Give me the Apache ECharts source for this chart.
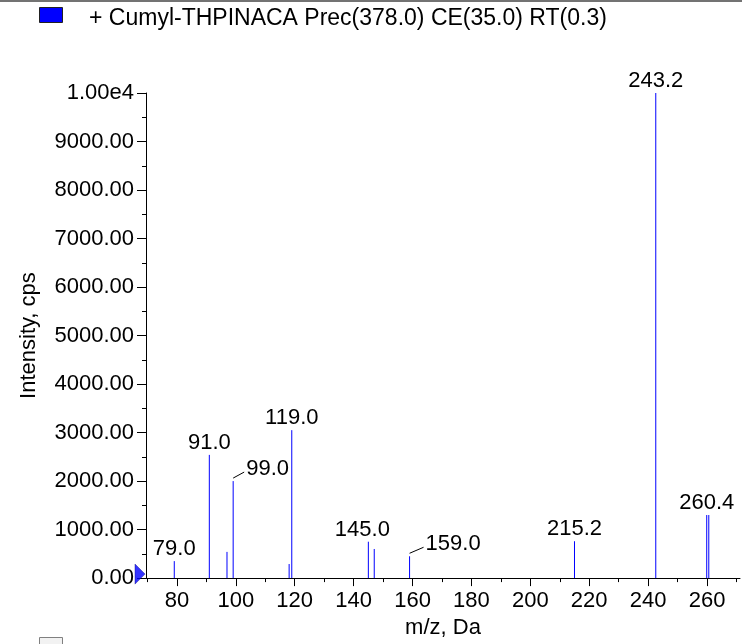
<!DOCTYPE html>
<html>
<head>
<meta charset="utf-8">
<script src="https://cdn.jsdelivr.net/npm/echarts@6/dist/echarts.min.js"></script>
<style>
  html, body { margin: 0; padding: 0; background: #fff; }
  #chart { width: 742px; height: 644px; }
</style>
</head>
<body>
<div id="chart"></div>
<script>
// peaks (m/z, intensity in cps)
const mzValues = [79.1, 91.0, 97.0, 99.1, 118.1, 119.0, 145.0, 147.0, 159.0, 215.0, 242.6, 259.9, 260.6];
const intensities = [350, 2540, 540, 2000, 290, 3050, 750, 600, 450, 760, 10000, 1300, 1300];
const peakLabels = ["79.0", "91.0", "", "99.0", "", "119.0", "145.0", "", "159.0", "215.2", "243.2", "260.4", ""];

const xTickValues = [80, 100, 120, 140, 160, 180, 200, 220, 240, 260];
const xMinorTickValues = [70, 90, 110, 130, 150, 170, 190, 210, 230, 250, 270];
const yTickValues = [0, 1000, 2000, 3000, 4000, 5000, 6000, 7000, 8000, 9000, 10000];

const legendText = "+ Cumyl-THPINACA Prec(378.0) CE(35.0) RT(0.3)";

const X_MIN = 69.5;
const X_MAX = 271.2;
const FONT = "Liberation Sans, Arial, sans-serif";

// labels that were moved aside with a small leader line
const leaderLabels = ["99.0", "159.0"];
const labelShift = { "145.0": -6 };

const chart = echarts.init(document.getElementById("chart"));

function renderPeak(params, api) {
  const mz = api.value(0);
  const base = api.coord([mz, 0]);
  const top = api.coord([mz, api.value(1)]);
  const children = [
    {
      type: "line",
      shape: { x1: base[0], y1: base[1], x2: top[0], y2: top[1] },
      style: { stroke: "#0000ff", lineWidth: 1 },
    },
  ];
  const text = peakLabels[params.dataIndex];
  if (text) {
    if (leaderLabels.includes(text)) {
      const dx = text === "99.0" ? 11 : 14;
      children.push({
        type: "line",
        shape: { x1: top[0], y1: top[1] - 3, x2: top[0] + dx, y2: top[1] - 9 },
        style: { stroke: "#000", lineWidth: 1 },
      });
      children.push({
        type: "text",
        style: {
          text: text,
          x: top[0] + dx + 2,
          y: top[1] - 12,
          fill: "#000",
          font: "22px " + FONT,
          align: "left",
          verticalAlign: "middle",
        },
      });
    } else {
      children.push({
        type: "text",
        style: {
          text: text,
          x: top[0] + (labelShift[text] || 0),
          y: top[1] - 1,
          fill: "#000",
          font: "22px " + FONT,
          align: "center",
          verticalAlign: "bottom",
        },
      });
    }
  }
  return { type: "group", children: children };
}

chart.setOption({
  animation: false,
  backgroundColor: "#fff",
  textStyle: { fontFamily: FONT },
  grid: { left: 146, right: 2, top: 93, bottom: 62 },
  xAxis: [
    {
      type: "value",
      min: X_MIN,
      max: X_MAX,
      position: "bottom",
      name: "m/z, Da",
      nameLocation: "middle",
      nameGap: 35,
      nameTextStyle: { color: "#000", fontSize: 22, fontFamily: FONT },
      axisLine: { show: true, lineStyle: { color: "#000", width: 1 } },
      axisTick: { show: true, length: 8, customValues: xTickValues, lineStyle: { color: "#000" } },
      axisLabel: {
        color: "#000",
        fontSize: 22,
        fontFamily: FONT,
        margin: 12,
        customValues: xTickValues,
      },
      splitLine: { show: false },
    },
    {
      type: "value",
      min: X_MIN,
      max: X_MAX,
      position: "bottom",
      axisLine: { show: false },
      axisTick: { show: true, length: 4, customValues: xMinorTickValues, lineStyle: { color: "#000" } },
      axisLabel: { show: false },
      splitLine: { show: false },
    },
  ],
  yAxis: {
    type: "value",
    min: 0,
    max: 10000,
    interval: 1000,
    name: "Intensity, cps",
    nameLocation: "middle",
    nameGap: 106,
    nameTextStyle: { color: "#000", fontSize: 22, fontFamily: FONT },
    axisLine: { show: true, lineStyle: { color: "#000", width: 1 } },
    axisTick: { show: true, length: 9, customValues: yTickValues, lineStyle: { color: "#000" } },
    minorTick: { show: true, splitNumber: 2, length: 4, lineStyle: { color: "#000" } },
    axisLabel: {
      color: "#000",
      fontSize: 22,
      fontFamily: FONT,
      margin: 12,
      customValues: yTickValues,
      formatter: (v) => (v === 10000 ? "1.00e4" : v.toFixed(2)),
    },
    splitLine: { show: false },
    minorSplitLine: { show: false },
  },
  graphic: [
    {
      type: "line",
      shape: { x1: 0, y1: 1, x2: 742, y2: 1 },
      style: { stroke: "#444", lineWidth: 1.5 },
    },
    {
      type: "rect",
      shape: { x: 39.5, y: 7.5, width: 23, height: 15 },
      style: { fill: "#0000ff", stroke: "#222", lineWidth: 1 },
    },
    {
      type: "text",
      style: {
        text: legendText,
        x: 89,
        y: 19,
        fill: "#000",
        font: "23px " + FONT,
        align: "left",
        verticalAlign: "middle",
      },
    },
    {
      type: "rect",
      shape: { x: 39.5, y: 637.5, width: 23, height: 15 },
      style: { fill: "#f2f2f2", stroke: "#808080", lineWidth: 1 },
    },
  ],
  series: [
    {
      type: "custom",
      xAxisIndex: 0,
      renderItem: renderPeak,
      data: mzValues.map((m, i) => [m, intensities[i]]),
      silent: true,
    },
    {
      type: "scatter",
      xAxisIndex: 0,
      data: [[X_MIN, 0]],
      symbol: "triangle",
      symbolSize: [20, 10],
      symbolRotate: -90,
      symbolOffset: [-6, -4],
      itemStyle: { color: "#0000ff", borderColor: "#000080", borderWidth: 0.5 },
      silent: true,
      z: 5,
    },
  ],
});
</script>
</body>
</html>
